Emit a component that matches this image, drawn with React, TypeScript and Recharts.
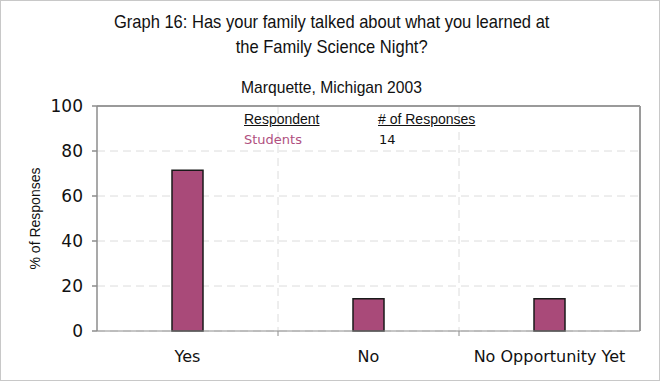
import React from "react";
import { BarChart, Bar, XAxis, YAxis, CartesianGrid, ReferenceLine } from "recharts";

const titleLines = ["Graph 16: Has your family talked about what you learned at", "the Family Science Night?"];
const subtitle = "Marquette, Michigan 2003";
const categories = ["Yes", "No", "No Opportunity Yet"];
const percentages = [71.4, 14.3, 14.3];
const yTicks = [0, 20, 40, 60, 80, 100];
const legendHeaders = ["Respondent", "# of Responses"];
const respondentGroups = ["Students"];
const responseCounts = [14];

const data = categories.map((c, i) => ({ category: c, value: percentages[i] }));

const BAR_COLOR = "#A94A79";
const AXIS_COLOR = "#8c8c8c";

const XTick = (props: any) => {
  const { x, y, payload, width, index, visibleTicksCount } = props;
  const n = visibleTicksCount || categories.length;
  const band = width / n;
  const bx = x - band / 2;
  return (
    <g>
      {index > 0 && <line x1={bx} y1={y} x2={bx} y2={y + 5} stroke={AXIS_COLOR} strokeWidth={1} />}
      <text x={x} y={y} dy={31} textAnchor="middle" fontFamily="DejaVu Sans" fontSize={16} fill="#111">
        {payload.value}
      </text>
    </g>
  );
};

export default function App() {
  return (
    <div
      style={{
        position: "absolute",
        left: 0,
        top: 0,
        width: 660,
        height: 381,
        boxSizing: "border-box",
        border: "1px solid #c8c8c8",
        background: "#fff",
      }}
    >
      <div style={{ position: "absolute", left: -1, top: -1, width: 660, height: 381 }}>
        <BarChart
          width={660}
          height={381}
          data={data}
          margin={{ top: 106, right: 19, left: 37, bottom: 20 }}
          barSize={31}
        >
          <CartesianGrid
            yAxisId="left"
            stroke="#dcdcdc"
            strokeDasharray="8 5"
            verticalCoordinatesGenerator={({ offset }: any) =>
              categories.slice(1).map((_, i) => offset.left + (offset.width * (i + 1)) / categories.length)
            }
          />
          <XAxis
            dataKey="category"
            stroke={AXIS_COLOR}
            tickLine={false}
            tickSize={0}
            tickMargin={0}
            height={30}
            tick={<XTick />}
            interval={0}
          />
          <YAxis
            yAxisId="left"
            domain={[0, 100]}
            ticks={yTicks}
            width={60}
            stroke={AXIS_COLOR}
            strokeWidth={1.5}
            tickSize={5}
            tickMargin={9}
            tick={{ fontFamily: "DejaVu Sans", fontSize: 17, fill: "#111" }}
            label={{
              value: "% of Responses",
              angle: -90,
              position: "insideLeft",
              offset: 0,
              dx: -2,
              style: { fontFamily: "Liberation Sans", fontSize: 14, fill: "#111", textAnchor: "middle" },
            }}
          />
          <YAxis
            yAxisId="right"
            orientation="right"
            domain={[0, 100]}
            ticks={yTicks}
            width={1}
            tick={false}
            tickLine={false}
            stroke="#9a9a9a"
            strokeWidth={2}
          />
          <ReferenceLine yAxisId="left" y={100} stroke="#9a9a9a" strokeWidth={2} />
          <Bar yAxisId="left" dataKey="value" fill={BAR_COLOR} stroke="#1a1a1a" strokeWidth={1.5} isAnimationActive={false} />
        </BarChart>
      </div>
      <div
        style={{
          position: "absolute",
          left: 0,
          top: 8,
          width: 660,
          textAlign: "center",
          fontFamily: "Liberation Sans",
          fontSize: 19,
          lineHeight: "25px",
          color: "#111",
          transform: "scaleX(0.87)",
          transformOrigin: "335px 0",
        }}
      >
        {titleLines.map((t) => (
          <div key={t}>{t}</div>
        ))}
      </div>
      <div
        style={{
          position: "absolute",
          left: 0,
          top: 77,
          width: 660,
          textAlign: "center",
          fontFamily: "Liberation Sans",
          fontSize: 17,
          color: "#111",
          transform: "scaleX(0.92)",
          transformOrigin: "336px 0",
        }}
      >
        {subtitle}
      </div>
      <div style={{ position: "absolute", left: 243, top: 110, fontFamily: "Liberation Sans", fontSize: 14, color: "#111", textDecoration: "underline" }}>
        {legendHeaders[0]}
      </div>
      <div style={{ position: "absolute", left: 377, top: 110, fontFamily: "Liberation Sans", fontSize: 14, color: "#111", textDecoration: "underline" }}>
        {legendHeaders[1]}
      </div>
      {respondentGroups.map((g, i) => (
        <React.Fragment key={g}>
          <div style={{ position: "absolute", left: 243, top: 131 + i * 19, fontFamily: "DejaVu Sans", fontSize: 13, color: "#B0507F" }}>
            {g}
          </div>
          <div style={{ position: "absolute", left: 378, top: 131 + i * 19, fontFamily: "DejaVu Sans", fontSize: 13, color: "#111" }}>
            {responseCounts[i]}
          </div>
        </React.Fragment>
      ))}
    </div>
  );
}
